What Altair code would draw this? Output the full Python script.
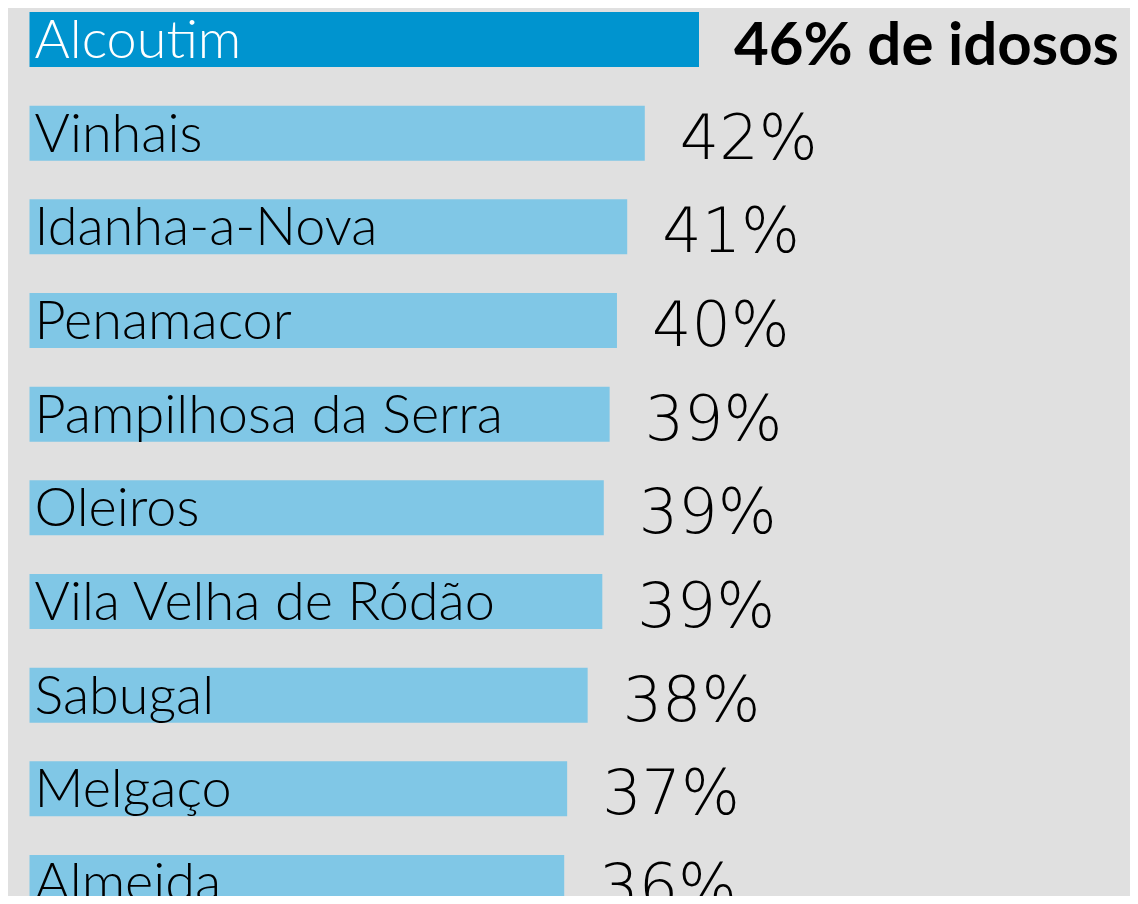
import altair as alt
import pandas as pd

concelhos = ["Alcoutim", "Vinhais", "Idanha-a-Nova", "Penamacor", "Pampilhosa da Serra",
             "Oleiros", "Vila Velha de Ródão", "Sabugal", "Melgaço", "Almeida"]
percentagens = [45.7, 42.0, 40.8, 40.1, 39.6, 39.2, 39.1, 38.1, 36.7, 36.5]
rotulos = ["46% de idosos", "42%", "41%", "40%", "39%", "39%", "39%", "38%", "37%", "36%"]
grupo = ["destaque"] + ["outros"] * 9

df = pd.DataFrame({"concelho": concelhos, "valor": percentagens,
                   "rotulo": rotulos, "grupo": grupo})

x_scale = alt.Scale(domain=[0, 75], range=[21.5, 21.5 + 75 * 14.65])
y_scale = alt.Scale(domain=concelhos, range=[4, 902], paddingInner=0.4128, paddingOuter=0)

base = alt.Chart(df)
y_enc = alt.Y("concelho:N", scale=y_scale, axis=None, sort=concelhos)
is_first = alt.datum.grupo == "destaque"

bars = base.mark_bar(clip=True).encode(
    x=alt.X("valor:Q", scale=x_scale, axis=None),
    x2=alt.value(21.5),
    y=y_enc,
    color=alt.condition(is_first, alt.value("#0094cf"), alt.value("#80c7e6")),
)

names = base.mark_text(align="left", baseline="alphabetic", font="Lato", fontSize=54,
                       fontWeight=300, dx=5, dy=18.5, clip=True).encode(
    x=alt.value(21.5),
    y=y_enc,
    text="concelho:N",
    color=alt.condition(is_first, alt.value("#ffffff"), alt.value("#000000")),
)

val_first = base.transform_filter(is_first).mark_text(
    align="left", baseline="alphabetic", font="Lato", fontSize=60, fontWeight=700,
    dx=35, dy=25.5, color="#000000", clip=True).encode(
    x=alt.X("valor:Q", scale=x_scale), y=y_enc, text="rotulo:N")

val_rest = base.transform_filter(alt.datum.grupo == "outros").mark_text(
    align="left", baseline="alphabetic", font="DejaVu Sans", fontSize=62, fontWeight=200,
    dx=35, dy=25.5, color="#000000", clip=True).encode(
    x=alt.X("valor:Q", scale=x_scale), y=y_enc, text="rotulo:N")

chart = alt.layer(bars, names, val_first, val_rest).properties(
    width=1122, height=888,
    autosize=alt.AutoSizeParams(type="none"),
    padding=0,
    background="#e0e0e0",
).configure_view(stroke=None, fill="#e0e0e0")

chart.save("out.html", embed_options={"renderer": "svg", "actions": False})
